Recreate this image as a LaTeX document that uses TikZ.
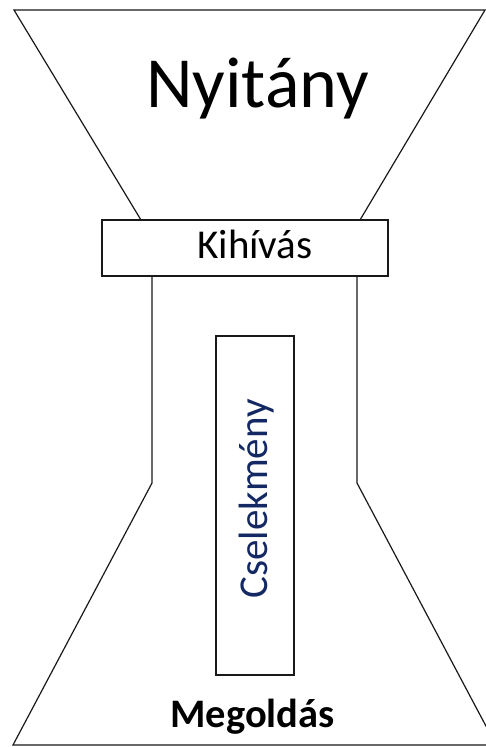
\documentclass[tikz,border=0pt]{standalone}
\usepackage{fontspec}
\setmainfont{Carlito}
\definecolor{navy}{RGB}{20,40,100}
\definecolor{edge}{RGB}{25,25,25}
\tikzset{
  outline/.style={draw=edge, line width=1.2pt, line join=miter},
  boxnode/.style={draw=edge, line width=1.2pt, rectangle, inner sep=0pt, fill=white},
  plain/.style={inner sep=0pt, text=black},
}
\begin{document}
\begin{tikzpicture}[x=1pt,y=-1pt]
\useasboundingbox (0,0) rectangle (486,747);
\fill[white] (0,0) rectangle (486,747);
\begin{scope}
\clip (0,0) rectangle (486,747);
% upper funnel
\draw[outline] (141,220) -- (14,10) -- (485,10) -- (360,220);
% lower body
\draw[outline] (152,276) -- (152,483) -- (13,745) -- (496,745) -- (357,483) -- (357,276);
\end{scope}
% challenge box
\node[boxnode, minimum width=286pt, minimum height=56pt] (kbox) at (245,248) {};
\node[plain, anchor=base, font=\fontsize{41}{41}\selectfont] (kihivas) at (255,258) {Kihívás};
% title
\node[plain, anchor=base, font=\fontsize{72}{72}\selectfont] (nyitany) at (257.5,107) {Nyitány};
% plot box
\node[boxnode, minimum width=78pt, minimum height=339pt] (cbox) at (255,505.5) {};
\node[plain, text=navy, rotate=90, anchor=base, font=\fontsize{41}{41}\selectfont] (cselekmeny) at (267,499) {Cselekmény};
% resolution
\node[plain, anchor=base, font=\fontsize{40.5}{40.5}\selectfont\bfseries] (megoldas) at (252.5,727) {Megoldás};
\end{tikzpicture}
\end{document}
